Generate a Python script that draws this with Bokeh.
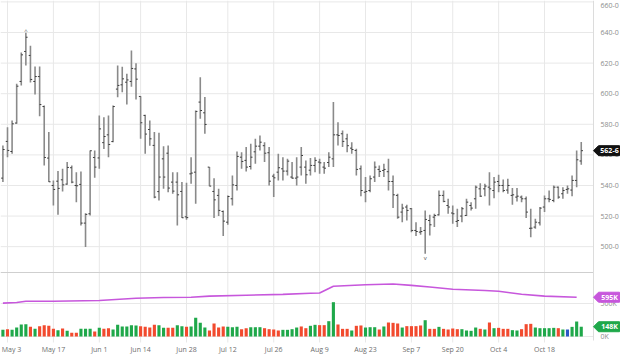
from bokeh.plotting import figure
from bokeh.models import Range1d
from bokeh.core.properties import value
from bokeh.embed import file_html
from bokeh.resources import INLINE

# ---------------- data ----------------
# trading-day index: 0 = May 3 (2021); -1 = Apr 30
bar_index = list(range(-1, 126))

opens = [544.8, 568.8, 562.2, 580.8, 608.0, 627.6, 625.0, 608.0, 611.2, 591.6,
         557.9, 540.0, 542.8, 543.7, 540.9, 551.6, 540.0, 540.7, 515.4, 521.5,
         558.3, 558.0, 568.0, 573.1, 568.7, 603.0, 605.8, 607.5, 608.0, 616.2,
         598.2, 585.8, 576.6, 566.2, 536.0, 557.4, 561.1, 542.2, 542.2, 536.1,
         519.5, 547.6, 548.7, 594.5, 587.5, 552.0, 536.1, 533.5, 523.0, 516.0,
         531.3, 540.0, 558.5, 556.4, 552.4, 562.0, 565.7, 566.0, 561.4, 546.1,
         548.7, 550.9, 549.4, 545.5, 544.8, 552.0, 552.0, 550.0, 553.1, 555.3,
         552.0, 555.0, 557.4, 573.1, 573.8, 570.5, 564.4, 562.9, 550.9, 535.6,
         536.7, 545.5, 550.5, 549.8, 549.0, 542.6, 533.5, 522.6, 525.9, 524.8,
         510.6, 509.5, 510.6, 517.1, 519.3, 520.8, 533.5, 526.9, 522.0, 516.5,
         520.0, 520.4, 526.9, 531.3, 537.8, 537.8, 538.9, 536.7, 542.6, 540.0,
         537.0, 533.5, 532.4, 532.4, 531.3, 512.0, 512.8, 515.6, 525.9, 531.3,
         530.2, 538.9, 534.6, 537.4, 537.0, 543.3, 556.0]
highs = [566.2, 578.1, 582.5, 606.5, 627.0, 639.8, 631.3, 617.8, 617.7, 592.3,
         574.9, 543.3, 549.4, 550.9, 555.3, 553.1, 548.7, 549.2, 521.9, 562.9,
         562.9, 585.8, 584.6, 585.7, 592.3, 618.4, 617.6, 613.0, 628.2, 619.9,
         598.4, 586.2, 582.5, 574.9, 574.5, 565.7, 566.2, 548.7, 548.7, 542.2,
         541.8, 558.5, 589.0, 610.8, 597.8, 552.0, 544.8, 537.8, 523.7, 533.5,
         546.5, 562.2, 561.8, 565.1, 567.2, 570.5, 572.7, 568.3, 565.1, 547.6,
         560.7, 558.5, 557.4, 555.3, 558.5, 565.1, 556.4, 557.9, 558.5, 557.4,
         555.3, 561.8, 594.5, 581.4, 576.0, 573.8, 568.3, 564.0, 553.1, 545.5,
         546.5, 555.7, 553.1, 554.2, 557.4, 546.5, 534.6, 528.0, 527.4, 525.2,
         516.0, 512.8, 523.7, 520.8, 521.5, 536.7, 536.7, 531.3, 526.9, 524.8,
         525.9, 531.3, 529.1, 540.0, 541.5, 541.1, 548.7, 545.5, 547.0, 543.9,
         544.4, 538.3, 538.3, 533.5, 532.8, 524.8, 518.2, 525.9, 533.5, 536.7,
         540.0, 539.4, 538.9, 540.0, 546.5, 562.9, 568.5]
lows = [542.2, 558.5, 560.7, 580.3, 605.4, 618.4, 607.3, 599.4, 585.2, 553.0,
        542.2, 526.9, 520.8, 536.1, 540.5, 541.5, 529.1, 513.9, 499.7, 520.4,
        545.0, 551.0, 563.9, 558.5, 568.3, 597.7, 601.0, 592.9, 604.5, 596.2,
        570.5, 560.7, 566.0, 531.7, 530.2, 537.8, 535.6, 534.6, 513.9, 518.7,
        517.6, 541.1, 528.0, 583.6, 573.8, 539.5, 518.7, 520.0, 506.9, 514.3,
        526.9, 536.7, 550.9, 549.2, 550.5, 554.2, 562.9, 555.3, 540.0, 532.4,
        543.3, 543.3, 546.5, 544.4, 540.0, 546.5, 541.1, 546.5, 548.7, 547.6,
        547.6, 552.0, 552.0, 566.2, 565.1, 561.8, 560.7, 546.5, 533.0, 529.1,
        535.6, 542.2, 545.5, 545.5, 536.7, 525.2, 518.2, 516.0, 517.1, 509.5,
        506.9, 507.8, 495.3, 507.3, 512.8, 520.4, 529.1, 521.5, 514.9, 512.8,
        516.0, 520.0, 523.7, 524.8, 532.4, 533.0, 526.9, 531.7, 535.6, 535.6,
        534.6, 527.4, 529.6, 529.1, 518.7, 506.2, 511.7, 513.9, 522.6, 529.1,
        529.1, 531.3, 531.3, 534.6, 533.0, 538.9, 553.5]
closes = [563.5, 562.9, 580.3, 604.9, 625.4, 636.9, 609.3, 611.2, 592.9, 558.3,
          542.4, 537.4, 538.1, 540.4, 551.8, 542.2, 539.8, 515.4, 521.1, 562.7,
          552.0, 577.0, 572.0, 566.8, 591.6, 605.4, 609.7, 609.0, 616.5, 609.5,
          581.0, 573.6, 570.5, 532.4, 545.5, 545.5, 538.3, 536.3, 533.9, 518.9,
          519.0, 548.1, 588.4, 589.0, 579.9, 539.6, 530.6, 523.7, 516.7, 532.8,
          540.4, 559.0, 555.7, 552.0, 558.5, 565.7, 568.3, 561.1, 542.8, 545.0,
          551.6, 549.4, 555.9, 544.8, 545.5, 559.6, 547.0, 553.1, 556.4, 554.8,
          551.3, 558.5, 573.1, 572.7, 568.8, 566.0, 563.5, 550.5, 536.7, 536.1,
          544.4, 552.0, 549.2, 550.5, 542.6, 533.9, 519.3, 525.2, 523.7, 510.6,
          509.9, 509.9, 517.8, 514.3, 520.4, 533.5, 529.6, 525.9, 521.5, 517.1,
          524.8, 529.1, 525.2, 538.9, 533.0, 539.6, 537.8, 542.2, 540.0, 536.7,
          540.0, 533.9, 533.0, 531.3, 522.6, 512.1, 516.0, 525.2, 531.3, 530.9,
          538.9, 532.4, 536.7, 537.8, 543.3, 556.8, 562.75]

volumes_k = [101, 111, 101, 136, 182, 187, 146, 116, 157, 172,
             162, 116, 96, 121, 86, 56, 56, 116, 116, 116,
             76, 131, 116, 126, 106, 177, 152, 152, 172, 167,
             157, 146, 136, 177, 172, 131, 131, 131, 172, 157,
             146, 152, 283, 210, 136, 91, 197, 136, 152, 146,
             141, 146, 111, 126, 141, 141, 141, 126, 111, 106,
             91, 101, 101, 111, 136, 152, 126, 162, 177, 172,
             172, 232, 520, 182, 116, 116, 91, 162, 167, 136,
             141, 141, 106, 152, 212, 207, 197, 136, 157, 157,
             157, 167, 247, 116, 116, 146, 116, 106, 121, 111,
             111, 91, 86, 136, 116, 106, 212, 126, 131, 116,
             116, 96, 91, 111, 187, 192, 136, 126, 126, 126,
             131, 126, 106, 106, 146, 227, 148]
# G = up day, R = down day, B = unchanged
vol_dir = list("GRGGGGRGRRRRGRGRRGGGRGRRGGGGGGRRRRGGRRGGRGG"
               "GGRRRRGGGRRGGGRRRRGGGGRRGGRRGGRRRGRRGGGRGRRRGR"
               "RRRGRRGRRRRGGGGRGRGRRRGGRRRGGGGGRGBGGG")

oi_index = [-1, 2, 4, 10, 20, 28, 34, 40, 44, 52, 60, 66, 68, 71,
            78, 84, 88, 92, 97, 104, 107, 112, 117, 124]
oi_k = [505, 515, 535, 533, 545, 580, 590, 595, 612, 625, 638, 655, 660, 762,
        783, 796, 775, 750, 715, 698, 686, 640, 612, 595]

date_ticks = [0, 10, 20, 29, 39, 48, 58, 68, 78, 88, 97, 107, 117]
date_labels = ["May 3", "May 17", "Jun 1", "Jun 14", "Jun 28", "Jul 12", "Jul 26",
               "Aug 9", "Aug 23", "Sep 7", "Sep 20", "Oct 4", "Oct 18"]
price_ticks = [500, 520, 540, 560, 580, 600, 620, 640, 660]
price_tick_labels = ["%d-0" % t for t in price_ticks]
vol_ticks = [0, 500000]
vol_tick_labels = ["0K", "500K"]
contract_high_index, contract_low_index = 4, 91
last_price_label = "562-6"
last_oi_label = "595K"
last_vol_label = "148K"

# ---------------- layout helpers ----------------
W, H = 624, 356
PX_PER_BAR = 4.59
X_LEFT = -7 / PX_PER_BAR
P_TOP, P_BOT = 660.92, 428.2
P_PER_PX = (P_TOP - P_BOT) / H
V_PER_PX = 500000 / 33.0
V_TOP = 336 * V_PER_PX
V_BOT = -(H - 336) * V_PER_PX
AXIS_PX = 593


def x_of_px(px):
    return X_LEFT + px / PX_PER_BAR


def price_of_px(py):
    return P_TOP - py * P_PER_PX


FONT = value("Open Sans")

p = figure(width=W, height=H, output_backend="svg", toolbar_location=None,
           x_range=Range1d(X_LEFT, X_LEFT + W / PX_PER_BAR),
           y_range=Range1d(P_BOT, P_TOP),
           x_axis_location=None, y_axis_location=None,
           min_border=0, outline_line_color=None)
p.extra_y_ranges = {"vol": Range1d(V_BOT, V_TOP)}
p.grid.visible = False
p.background_fill_color = "white"
p.border_fill_color = "white"

GRID = "#e8e8e8"
xl, xr = x_of_px(0), x_of_px(AXIS_PX)

# horizontal price grid
p.segment(x0=[xl] * len(price_ticks), y0=price_ticks,
          x1=[xr] * len(price_ticks), y1=price_ticks,
          line_color=GRID, line_width=1)
# volume grid
p.segment(x0=[xl] * len(vol_ticks), y0=vol_ticks, x1=[xr] * len(vol_ticks), y1=vol_ticks,
          line_color=GRID, line_width=1, y_range_name="vol")
# vertical date grid
p.segment(x0=date_ticks, y0=[price_of_px(342)] * len(date_ticks),
          x1=date_ticks, y1=[P_TOP] * len(date_ticks),
          line_color=GRID, line_width=1)

# panel separator and right border
p.segment(x0=[xl], y0=[price_of_px(272)], x1=[xr], y1=[price_of_px(272)],
          line_color="#cfcfcf", line_width=1.2)
p.segment(x0=[xr], y0=[price_of_px(340)], x1=[xr], y1=[P_TOP],
          line_color="#dcdcdc", line_width=1)

# OHLC bars
p.segment(x0=bar_index, y0=lows, x1=bar_index, y1=highs,
          line_color="#8a8a8a", line_width=1.6)
tick = 0.38
p.segment(x0=[i - tick for i in bar_index], y0=opens, x1=bar_index, y1=opens,
          line_color="#3a3a3a", line_width=1)
p.segment(x0=bar_index, y0=closes, x1=[i + tick for i in bar_index], y1=closes,
          line_color="#3a3a3a", line_width=1)

# contract high / low markers
p.text(x=[contract_high_index], y=[highs[contract_high_index + 1] - 1.5], text=["^"],
       text_font=FONT, text_font_size="6px", text_color="#555555",
       text_align="center", text_baseline="bottom")
p.text(x=[contract_low_index], y=[lows[contract_low_index + 1] - 0.3], text=["v"],
       text_font=FONT, text_font_size="6px", text_color="#555555",
       text_align="center", text_baseline="top")

# volume bars
col_map = {"G": "#1fa84a", "R": "#f24a2e", "B": "#2a56c6"}
vol_colors = [col_map[d] for d in vol_dir]
p.vbar(x=bar_index, top=[v * 1000 for v in volumes_k], bottom=0, width=0.68,
       fill_color=vol_colors, line_color=None, y_range_name="vol")

# open interest line
p.line(x=oi_index, y=[v * 1000 for v in oi_k], line_color="#c757dc",
       line_width=1.6, y_range_name="vol")

# right axis labels (top one nudged down so it stays inside the page)
lab_x = x_of_px(600)
price_label_y = [min(t, price_of_px(5)) for t in price_ticks]
p.text(x=[lab_x] * len(price_ticks), y=price_label_y, text=price_tick_labels,
       text_font=FONT, text_font_size="7px", text_color="#8c8c8c",
       text_align="left", text_baseline="middle")
p.text(x=[lab_x] * len(vol_ticks), y=vol_ticks, text=vol_tick_labels,
       text_font=FONT, text_font_size="7px", text_color="#8c8c8c",
       text_align="left", text_baseline="middle", y_range_name="vol")

# date labels (first one kept inside the left edge)
date_x = [max(t, x_of_px(11)) for t in date_ticks]
p.text(x=date_x, y=[price_of_px(349)] * len(date_ticks), text=date_labels,
       text_font=FONT, text_font_size="7px", text_color="#6e6e6e",
       text_align="center", text_baseline="middle")


def tag(yval, per_px, label, color, range_name="default"):
    hx = [0, 5, 26, 26, 5]
    hy = [0, -5, -5, 5, 5]
    xs = [x_of_px(AXIS_PX + dx) for dx in hx]
    ys = [yval - dy * per_px for dy in hy]
    p.patch(x=xs, y=ys, fill_color=color, line_color=color, y_range_name=range_name)
    p.text(x=[x_of_px(AXIS_PX + 16)], y=[yval], text=[label], text_font=FONT,
           text_font_size="7px", text_font_style="bold", text_color="white",
           text_align="center", text_baseline="middle", y_range_name=range_name)


tag(closes[-1], P_PER_PX, last_price_label, "#111111")
tag(oi_k[-1] * 1000, V_PER_PX, last_oi_label, "#c757dc", "vol")
tag(volumes_k[-1] * 1000, V_PER_PX, last_vol_label, "#1fa84a", "vol")

open("out.html", "w").write(file_html(p, INLINE))
